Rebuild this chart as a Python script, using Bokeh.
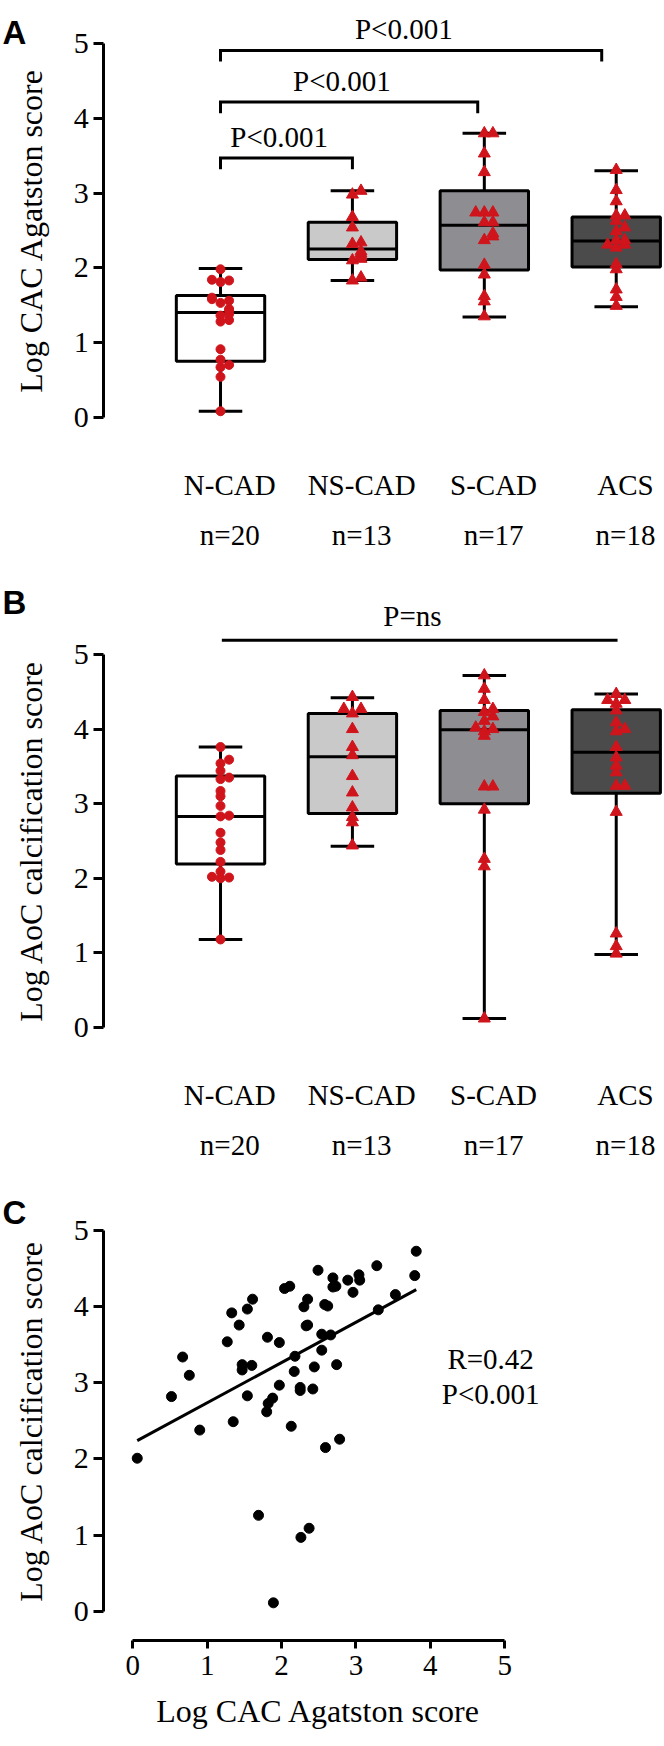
import numpy as np
from bokeh.plotting import figure
from bokeh.models import Range1d, FixedTicker, LinearAxis
from bokeh.layouts import column
from bokeh.core.properties import value
from bokeh.embed import file_html
from bokeh.resources import INLINE

SERIF = "Liberation Serif"
AXFONT = '"Liberation Serif", serif'

# ---------------- data ----------------
groups = ["N-CAD", "NS-CAD", "S-CAD", "ACS"]
group_n = ["n=20", "n=13", "n=17", "n=18"]
box_fill = ["#ffffff", "#c9c9c9", "#8e8d92", "#4b4b4b"]

# Panel A: Log CAC Agatston score
cac_ncad = [0.08, 0.54, 0.67, 0.70, 0.77, 0.91, 1.28, 1.30, 1.36, 1.38,
            1.43, 1.45, 1.53, 1.56, 1.58, 1.60, 1.81, 1.83, 1.84, 1.98]
cac_nscad = [1.83, 1.87, 2.10, 2.12, 2.16, 2.19, 2.22, 2.32, 2.34, 2.54,
             2.68, 2.98, 3.03]
cac_scad = [1.35, 1.55, 1.62, 1.91, 2.04, 2.37, 2.42, 2.46, 2.61, 2.61,
            2.74, 2.74, 2.74, 3.28, 3.53, 3.80, 3.80]
cac_acs = [1.49, 1.61, 1.71, 1.98, 2.05, 2.27, 2.31, 2.31, 2.37, 2.37,
           2.49, 2.54, 2.63, 2.70, 2.70, 2.89, 3.04, 3.31]
cac_lo = [0.08, 1.83, 1.34, 1.48]
cac_q1 = [0.75, 2.11, 1.97, 2.01]
cac_med = [1.40, 2.25, 2.57, 2.36]
cac_q3 = [1.63, 2.61, 3.03, 2.68]
cac_hi = [1.99, 3.03, 3.80, 3.30]
bracket_x0 = [1.0, 1.0, 1.0]
bracket_x1 = [2.0, 2.95, 3.89]
bracket_y = [3.47, 4.22, 4.91]
bracket_text = ["P<0.001", "P<0.001", "P<0.001"]

# Panel B: Log AoC calcification score
aoc_ncad = [1.18, 2.00, 2.01, 2.02, 2.09, 2.22, 2.38, 2.48, 2.61, 2.83,
            2.84, 2.97, 3.10, 3.17, 3.33, 3.44, 3.54, 3.59, 3.76, 3.35]
aoc_nscad = [2.44, 2.75, 2.82, 2.95, 3.15, 3.37, 3.65, 3.76, 4.00, 4.21,
             4.27, 4.27, 4.43]
aoc_scad = [0.12, 2.16, 2.26, 2.92, 3.23, 3.23, 3.91, 3.97, 4.00, 4.02,
            4.11, 4.17, 4.23, 4.27, 4.39, 4.54, 4.72]
aoc_acs = [0.99, 1.09, 1.26, 2.89, 3.24, 3.24, 3.42, 3.51, 3.62, 3.76,
           3.97, 4.00, 4.09, 4.25, 4.34, 4.39, 4.39, 4.47]
aoc_lo = [1.18, 2.43, 0.12, 0.98]
aoc_q1 = [2.19, 2.87, 3.00, 3.14]
aoc_med = [2.83, 3.63, 3.99, 3.69]
aoc_q3 = [3.37, 4.21, 4.25, 4.26]
aoc_hi = [3.76, 4.42, 4.72, 4.47]
ns_x0, ns_x1, ns_y = 1.01, 4.01, 5.19
ns_text = "P=ns"

# Panel C: scatter
sc_cac = [0.06, 0.52, 0.67, 0.76, 0.90, 1.27, 1.33, 1.35, 1.43, 1.47,
          1.47, 1.54, 1.54, 1.60, 1.61, 1.80, 1.81, 1.82, 1.88, 1.69,
          1.89, 1.97, 1.97, 2.04, 2.11, 2.13, 2.18, 2.17, 2.25, 2.25,
          2.26, 2.30, 2.33, 2.35, 2.35, 2.37, 2.42, 2.44, 2.49, 2.54,
          2.54, 2.58, 2.62, 2.59, 2.66, 2.69, 2.69, 2.73, 2.74, 2.78,
          2.89, 2.96, 3.04, 3.05, 3.28, 3.30, 3.53, 3.79, 3.81]
sc_aoc = [2.01, 2.82, 3.34, 3.10, 2.38, 3.54, 3.92, 2.49, 3.76, 3.24,
          3.17, 3.97, 2.83, 3.23, 4.10, 2.62, 3.60, 2.73, 2.80, 1.26,
          0.11, 3.53, 2.97, 4.24, 4.27, 2.43, 3.35, 3.15, 2.94, 2.90,
          0.97, 4.00, 3.75, 3.76, 4.10, 1.09, 2.92, 3.21, 4.48, 3.64,
          3.43, 4.03, 4.01, 2.15, 3.63, 4.38, 4.26, 4.27, 3.24, 2.26,
          4.35, 4.19, 4.42, 4.35, 4.54, 3.96, 4.16, 4.41, 4.73]
fit_slope = 0.529
fit_intercept = 2.21
stat_text = ["R=0.42", "P<0.001"]

RED = "#d0141c"


def swarm(vals, step=0.065, tol=0.06):
    offs, placed = [], []
    for v in vals:
        k = sum(1 for pv in placed if abs(pv - v) < tol)
        m = (k + 1) // 2
        sign = 1 if k % 2 == 1 else -1
        offs.append(sign * m * step if k else 0.0)
        placed.append(v)
    return offs


def style_axis(ax, title, tick_out, label_size, standoff):
    ax.bounds = (0, 5)
    ax.ticker = FixedTicker(ticks=[0, 1, 2, 3, 4, 5])
    ax.minor_tick_line_color = None
    ax.major_tick_in = 0
    ax.major_tick_out = tick_out
    ax.axis_line_width = 3
    ax.major_tick_line_width = 3
    ax.major_label_text_font = AXFONT
    ax.major_label_text_font_size = label_size
    ax.major_label_text_color = "black"
    ax.major_label_standoff = 5
    ax.axis_label = title
    ax.axis_label_text_font = AXFONT
    ax.axis_label_text_font_size = "32px"
    ax.axis_label_text_font_style = "normal"
    ax.axis_label_text_color = "black"
    ax.axis_label_standoff = standoff


def letter(p, x, y, t):
    p.text(x=[x], y=[y], text=[t], text_font=value("Liberation Sans"),
           text_font_style="bold", text_font_size="33px", text_align="left",
           text_baseline="alphabetic", text_color="black")


def box_panel(height, y0, y1, groups_vals, lo, q1, med, q3, hi, ytitle):
    p = figure(width=664, height=height, output_backend="svg", toolbar_location=None,
               x_range=Range1d(-0.668, 4.366), y_range=Range1d(y0, y1),
               x_axis_location=None, y_axis_location=None, min_border=0)
    p.grid.visible = False
    p.outline_line_color = None
    yax = LinearAxis(fixed_location=0.1152)
    style_axis(yax, ytitle, 10, "30px", 22)
    p.add_layout(yax, "left")
    xs = np.arange(1, 5)
    bw = 0.67
    cw = 0.33
    p.segment(x0=xs, x1=xs, y0=lo, y1=hi, line_color="black", line_width=3)
    p.vbar(x=xs, width=bw, bottom=q1, top=q3, fill_color=box_fill,
           line_color="black", line_width=3)
    p.segment(x0=xs - bw / 2, x1=xs + bw / 2, y0=med, y1=med, line_color="black", line_width=3)
    p.segment(x0=xs - cw / 2, x1=xs + cw / 2, y0=hi, y1=hi, line_color="black", line_width=3)
    p.segment(x0=xs - cw / 2, x1=xs + cw / 2, y0=lo, y1=lo, line_color="black", line_width=3)
    for i, vals in enumerate(groups_vals):
        gx = (i + 1) + np.array(swarm(vals))
        if i == 0:
            p.scatter(gx, vals, marker="circle", size=9, fill_color=RED, line_color=RED)
        else:
            p.scatter(gx, vals, marker="triangle", size=12, fill_color=RED, line_color=RED)
    lx = xs + 0.07
    p.text(x=lx, y=[-0.91] * 4, text=groups, text_font=value(SERIF), text_font_size="29px",
           text_align="center", text_baseline="middle", text_color="black")
    p.text(x=lx, y=[-1.58] * 4, text=group_n, text_font=value(SERIF), text_font_size="29px",
           text_align="center", text_baseline="middle", text_color="black")
    return p


# ---------------- Panel A ----------------
pA = box_panel(560, -1.918, 5.578, [cac_ncad, cac_nscad, cac_scad, cac_acs],
               cac_lo, cac_q1, cac_med, cac_q3, cac_hi, "Log CAC Agatston score")
leg = 0.15
bxs = [[a, a, b, b] for a, b in zip(bracket_x0, bracket_x1)]
bys = [[y - leg, y, y, y - leg] for y in bracket_y]
pA.multi_line(xs=bxs, ys=bys, line_color="black", line_width=3, line_join="miter")
pA.text(x=[(a + b) / 2 - 0.055 for a, b in zip(bracket_x0, bracket_x1)],
        y=[y + 0.28 for y in bracket_y], text=bracket_text, text_font=value(SERIF),
        text_font_size="29px", text_align="center", text_baseline="middle", text_color="black")
letter(pA, -0.653, 5.15, "A")

# ---------------- Panel B ----------------
pB = box_panel(610, -1.917, 6.26, [aoc_ncad, aoc_nscad, aoc_scad, aoc_acs],
               aoc_lo, aoc_q1, aoc_med, aoc_q3, aoc_hi, "Log AoC calcification score")
pB.segment(x0=[ns_x0], x1=[ns_x1], y0=[ns_y], y1=[ns_y], line_color="black", line_width=3)
pB.text(x=[(ns_x0 + ns_x1) / 2 - 0.055], y=[ns_y + 0.33], text=[ns_text], text_font=value(SERIF),
        text_font_size="29px", text_align="center", text_baseline="middle", text_color="black")
letter(pB, -0.653, 5.697, "B")

# ---------------- Panel C ----------------
pC = figure(width=664, height=576, output_backend="svg", toolbar_location=None,
            x_range=Range1d(-1.778, 7.147), y_range=Range1d(-1.778, 5.791),
            x_axis_location=None, y_axis_location=None, min_border=0)
pC.grid.visible = False
pC.outline_line_color = None
cy = LinearAxis(fixed_location=-0.39)
style_axis(cy, "Log AoC calcification score", 10, "30px", 22)
pC.add_layout(cy, "left")
cx = LinearAxis(fixed_location=-0.385)
style_axis(cx, "Log CAC Agatston score", 8, "29px", 14)
cx.major_label_standoff = 8
pC.add_layout(cx, "below")

fx = np.array([min(sc_cac), max(sc_cac)])
pC.line(fx, fit_intercept + fit_slope * fx, line_color="black", line_width=3)
pC.scatter(sc_cac, sc_aoc, marker="circle", size=10, fill_color="black", line_color="black")
pC.text(x=[4.81, 4.81], y=[3.32, 2.85], text=stat_text, text_font=value(SERIF),
        text_font_size="29px", text_align="center", text_baseline="middle", text_color="black")
letter(pC, -1.75, 5.24, "C")

layout = column(pA, pB, pC, spacing=0)
open("out.html", "w").write(file_html(layout, INLINE))
